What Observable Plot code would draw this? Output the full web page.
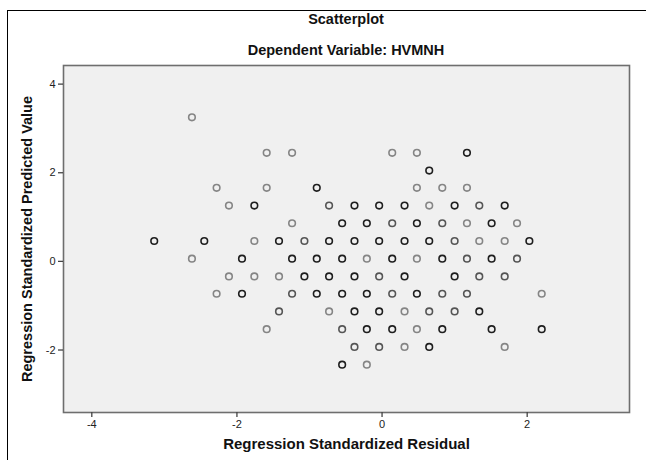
<!DOCTYPE html>
<html>
<head>
<meta charset="utf-8">
<script src="https://cdn.jsdelivr.net/npm/d3@7"></script>
<script src="https://cdn.jsdelivr.net/npm/@observablehq/plot@0.6"></script>
<style>
  html, body { margin: 0; padding: 0; background: #fff; }
  #wrap { position: relative; width: 646px; height: 460px; overflow: hidden; font-family: "Liberation Sans", Arial, sans-serif; }
  #border { position: absolute; left: 7px; top: 10px; width: 700px; height: 500px; border-left: 1px solid #000; border-top: 1px solid #000; }
  .ttl { position: absolute; left: 63px; width: 566px; text-align: center; font-size: 14.5px; line-height: 17px; font-weight: bold; color: #111; }
  #chart { position: absolute; left: 0; top: 0; }
  #chart svg { font-family: "Liberation Sans", Arial, sans-serif; }
  #chart [aria-label="x-axis label"] text { font-weight: bold; font-size: 15px; fill: #111; }
  #chart [aria-label="y-axis label"] text { font-weight: bold; font-size: 14.5px; fill: #111; }
  #chart [aria-label="x-axis tick label"] text, #chart [aria-label="y-axis tick label"] text { fill: #222; }
</style>
</head>
<body>
<div id="wrap">
  <div id="border"></div>
  <div class="ttl" style="top: 11px;">Scatterplot</div>
  <div class="ttl" style="top: 42px;">Dependent Variable: HVMNH</div>
  <div id="chart"></div>
</div>
<script>
// Regression standardized predicted value levels (rows of the scatter)
const predictedLevels = [3.25, 2.45, 2.05, 1.66, 1.26, 0.86, 0.46, 0.06, -0.34, -0.73, -1.13, -1.53, -1.93, -2.33];

// Regression standardized residuals observed at each predicted level
const residualsByLevel = [
  [-2.62],
  [-1.59, -1.24, 0.14, 0.48, 1.17],
  [0.65],
  [-2.28, -1.59, -0.90, 0.48, 0.83, 1.17],
  [-2.11, -1.76, -0.73, -0.38, -0.04, 0.31, 0.65, 1.00, 1.34, 1.69],
  [-1.24, -0.55, -0.21, 0.14, 0.48, 0.83, 1.17, 1.51, 1.86],
  [-3.14, -2.45, -1.76, -1.42, -1.07, -0.73, -0.38, -0.04, 0.31, 0.65, 1.00, 1.34, 1.69, 2.03],
  [-2.62, -1.93, -1.24, -0.90, -0.55, -0.21, 0.14, 0.48, 0.83, 1.17, 1.51, 1.86],
  [-2.11, -1.76, -1.42, -1.07, -0.73, -0.38, -0.04, 0.31, 1.00, 1.34, 1.69],
  [-2.28, -1.93, -1.24, -0.90, -0.55, -0.21, 0.14, 0.48, 0.83, 1.17, 2.20],
  [-1.42, -0.73, -0.38, -0.04, 0.31, 0.65, 1.00, 1.34],
  [-1.59, -0.55, -0.21, 0.14, 0.48, 0.83, 1.51, 2.20],
  [-0.38, -0.04, 0.31, 0.65, 1.69],
  [-0.55, -0.21]
];

// Overlap (number of coinciding cases, shown as darker markers): 1 light, 2 medium, 3 dark
const overlapByLevel = [
  [1],
  [1, 1, 1, 1, 3],
  [3],
  [1, 1, 3, 1, 1, 1],
  [1, 3, 2, 3, 3, 3, 1, 3, 2, 3],
  [1, 3, 3, 2, 3, 2, 1, 3, 1],
  [3, 3, 1, 3, 2, 3, 3, 3, 3, 3, 2, 1, 1, 3],
  [1, 3, 3, 3, 3, 1, 3, 1, 3, 2, 3, 2],
  [1, 1, 1, 3, 3, 3, 2, 3, 3, 2, 2],
  [1, 3, 2, 3, 3, 3, 2, 3, 2, 2, 1],
  [2, 1, 3, 3, 1, 2, 2, 3],
  [1, 2, 3, 3, 1, 3, 3, 3],
  [2, 2, 1, 3, 1],
  [3, 1]
];

const xTicks = [-4, -2, 0, 2];
const yTicks = [-2, 0, 2, 4];

const points = [];
predictedLevels.forEach((y, i) => {
  residualsByLevel[i].forEach((x, j) => {
    points.push({residual: x, predicted: y, overlap: overlapByLevel[i][j]});
  });
});

const chart = Plot.plot({
  width: 646,
  height: 460,
  marginTop: 65,
  marginBottom: 48,
  marginLeft: 63,
  marginRight: 17,
  style: {fontFamily: "Liberation Sans, Arial, sans-serif", fontSize: "11px", background: "transparent", color: "#222"},
  x: {domain: [-4.39, 3.41]},
  y: {domain: [-3.41, 4.42]},
  color: {type: "ordinal", domain: [1, 2, 3], range: ["#858585", "#555555", "#1e1e1e"]},
  marks: [
    Plot.frame({fill: "#f0f0f0", stroke: null}),
    Plot.dot(points, {x: "residual", y: "predicted", r: 3.3, stroke: "overlap", strokeWidth: 1.6, fill: "none"}),
    Plot.frame({stroke: "#6e6e6e", strokeWidth: 1.6}),
    Plot.axisX(xTicks, {tickSize: 5, tickPadding: 3, stroke: "#444", strokeWidth: 1.3, tickFormat: d => String(d),
      label: "Regression Standardized Residual", labelAnchor: "center", labelArrow: "none", labelOffset: 36}),
    Plot.axisY(yTicks, {tickSize: 5, tickPadding: 3, stroke: "#444", strokeWidth: 1.3, tickFormat: d => String(d),
      label: "Regression Standardized Predicted Value", labelAnchor: "center", labelArrow: "none", labelOffset: 42})
  ]
});
document.getElementById("chart").appendChild(chart);
</script>
</body>
</html>
